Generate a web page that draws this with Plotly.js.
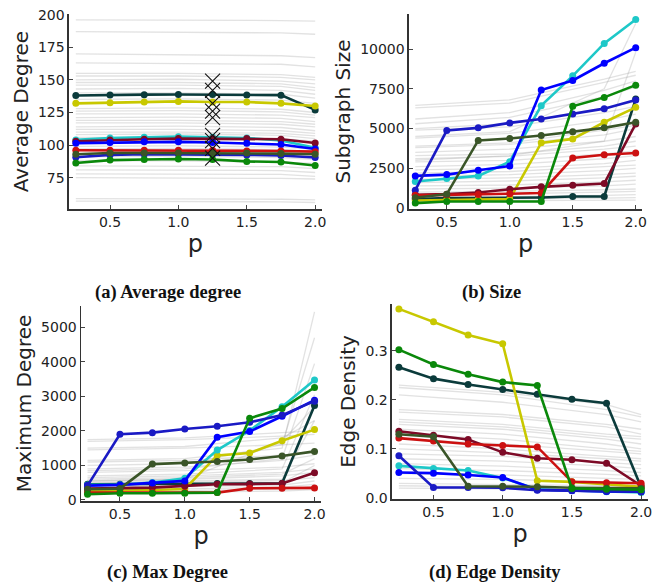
<!DOCTYPE html>
<html>
<head>
<meta charset="utf-8">
<script src="https://cdn.plot.ly/plotly-3.0.1.min.js"></script>
<style>html,body{margin:0;padding:0;background:#fff;}#chart{width:662px;height:584px;}</style>
</head>
<body>
<div id="chart"></div>
<script>
// x values (p)
const P = [0.25, 0.5, 0.75, 1.0, 1.25, 1.5, 1.75, 2.0];
const PG = [0.25, 1.0, 1.75, 2.0]; // x values for background (gray) runs

// highlighted series (order: teal, yellow, cyan, maroon, blue, mediumblue, red, olive, green)
const seriesNames = ['s1', 's2', 's3', 's4', 's5', 's6', 's7', 's8', 's9'];
const seriesColors = ['#0b3b3b', '#c8c800', '#1ec8c8', '#7d0a26', '#0000ff', '#1a1ac4', '#cc1111', '#3a5528', '#0a880a'];

const avgDegree = [
  [138, 138.5, 138.7, 138.8, 138.8, 138.5, 138.3, 127],
  [132, 132.5, 133, 133.5, 133, 133, 132, 130],
  [104, 105.5, 106, 106.5, 106, 105.5, 103.5, 98],
  [103, 104, 104.5, 105, 105, 105, 104.5, 101.6],
  [101.5, 102, 102.5, 102.5, 102, 101.5, 100.5, 97],
  [90.7, 92.5, 93, 93, 93, 92.5, 92, 90.5],
  [96, 96, 96, 96, 96, 95.5, 95.5, 95],
  [93, 94, 94, 94, 94, 94, 93.5, 93],
  [86.3, 88.5, 89, 89.3, 89, 87.5, 87, 84.3]
];
const subgraphSize = [
  [562, 625, 625, 625, 667, 729, 729, 6854],
  [480, 520, 540, 560, 4100, 4350, 5396, 6333],
  [1667, 1854, 2021, 2917, 6437, 8312, 10354, 11854],
  [833, 875, 979, 1187, 1333, 1437, 1542, 5292],
  [2021, 2104, 2375, 2646, 7417, 8021, 9104, 10083],
  [1125, 4875, 5042, 5354, 5604, 5917, 6250, 6792],
  [800, 820, 850, 900, 950, 3146, 3354, 3458],
  [650, 875, 4250, 4375, 4562, 4792, 5042, 5396],
  [312, 417, 417, 417, 417, 6396, 6958, 7729]
];
const maxDegree = [
  [456, 456, 456, 456, 476, 476, 485, 2738],
  [262, 270, 291, 320, 1291, 1359, 1718, 2039],
  [437, 440, 505, 631, 1447, 2010, 2699, 3476],
  [330, 335, 359, 408, 456, 460, 476, 786],
  [417, 437, 495, 553, 1816, 1981, 2427, 2893],
  [417, 1903, 1951, 2058, 2136, 2252, 2460, 2864],
  [214, 214, 214, 214, 214, 340, 340, 350],
  [311, 330, 1039, 1068, 1117, 1175, 1272, 1408],
  [165, 194, 194, 194, 214, 2369, 2650, 3262]
];
const edgeDensity = [
  [0.266, 0.243, 0.231, 0.221, 0.211, 0.201, 0.193, 0.022],
  [0.385, 0.359, 0.332, 0.314, 0.035, 0.033, 0.028, 0.023],
  [0.0655, 0.060, 0.056, 0.041, 0.0176, 0.0155, 0.013, 0.0115],
  [0.136, 0.128, 0.119, 0.093, 0.081, 0.078, 0.071, 0.025],
  [0.052, 0.0507, 0.047, 0.042, 0.017, 0.015, 0.0135, 0.013],
  [0.086, 0.0216, 0.0216, 0.021, 0.016, 0.0155, 0.014, 0.013],
  [0.122, 0.116, 0.110, 0.107, 0.104, 0.033, 0.031, 0.030],
  [0.130, 0.125, 0.024, 0.024, 0.023, 0.021, 0.020, 0.0196],
  [0.302, 0.272, 0.252, 0.236, 0.229, 0.0196, 0.018, 0.017]
];

// crosses drawn at p = 1.25 in panel (a)
const crossP = 1.25;
const crossVals = [149, 142, 132, 126, 121, 107.5, 103.5, 97.5, 90];

// background runs (values at PG)
const grayAvg = [
  [196,196,195.5,195],[187,186.5,186,185],[170,169.5,168.5,167],[163,162.5,162,160],
  [155,155,154,152],[153,153,152,150],[150,150.5,149,147],[148,148,147,144],
  [146,146,145,142],[143,143.5,142,139],[140,140,139,136],[135,135.5,134.5,132],
  [128,128.5,127.5,125],[126,126.5,125.5,123],[124,124,123,121],[121,121.5,120.5,118],
  [119,119,118,116],[117,117,116,114],[114,114.5,113.5,111],[112,112,111,109],
  [110,110,109,107],[108,108.5,107.5,105],[106,106,105,103],[99,99.5,98.5,97],
  [97,97.5,96.5,95],[91,91.5,90.5,89],[88,88,87,86],[84,84,83.5,82],
  [81,81,80.5,79],[78,78,77.5,76],[75,75,74.5,74],[59,59,58.5,58],[57,57,56.5,56]
];
const graySize = [
  [6450,6800,8100,8600],[6300,6600,7900,8350],[5600,6000,7400,8000],[5300,5700,7000,7600],
  [5000,5300,6300,6700],[4900,5100,6000,6400],[4400,4700,5500,5900],[3900,4100,4900,5200],
  [3800,4000,4600,5000],[3500,3700,4200,4500],[3300,3400,3900,4200],[3100,3250,3700,3900],
  [2900,3000,3400,3600],[2600,2750,3100,3300],[2400,2500,2800,3000],[2200,2300,2600,2700],
  [2000,2100,2350,2500],[1800,1900,2100,2200],[1600,1700,1900,2000],[1400,1450,1650,1750],
  [1200,1250,1400,1500],[1000,1050,1150,1200],[850,900,1000,1050],[700,720,800,850],
  [550,570,620,650],[450,460,490,500],[4500,4800,7500,11600],[3000,3300,4200,9800]
];
const grayMax = [
  [1750,1800,1950,2000],[1700,1750,1850,1900],[1500,1550,1800,2300],[1450,1500,1600,1650],
  [1150,1200,1500,5450],[1100,1150,1300,1400],[1000,1050,1600,4700],[900,950,1150,1300],
  [850,900,1200,3950],[800,850,950,1050],[700,750,900,3050],[650,700,800,900],
  [600,650,750,1200],[550,600,700,800],[500,550,600,2300],[450,500,560,650],
  [400,420,500,1000],[350,380,430,550],[300,320,370,450],[250,270,320,380],
  [200,220,260,300],[550,600,1700,2700]
];
const grayDensity = [
  [0.23,0.215,0.19,0.17],[0.225,0.21,0.18,0.165],[0.21,0.195,0.17,0.155],[0.18,0.17,0.15,0.14],
  [0.175,0.165,0.145,0.13],[0.16,0.15,0.13,0.125],[0.155,0.145,0.125,0.12],[0.15,0.14,0.12,0.11],
  [0.14,0.13,0.11,0.1],[0.13,0.12,0.1,0.095],[0.12,0.11,0.095,0.09],[0.11,0.1,0.085,0.08],
  [0.1,0.092,0.08,0.075],[0.09,0.085,0.072,0.068],[0.08,0.075,0.065,0.06],[0.07,0.065,0.056,0.052],
  [0.06,0.056,0.048,0.045],[0.05,0.047,0.04,0.038],[0.04,0.038,0.033,0.03],[0.03,0.028,0.025,0.022],
  [0.02,0.019,0.017,0.016],[0.025,0.023,0.02,0.018]
];

const panels = [
  {vals: avgDegree, gray: grayAvg, xa: 'x', ya: 'y'},
  {vals: subgraphSize, gray: graySize, xa: 'x2', ya: 'y2'},
  {vals: maxDegree, gray: grayMax, xa: 'x3', ya: 'y3'},
  {vals: edgeDensity, gray: grayDensity, xa: 'x4', ya: 'y4'}
];

const traces = [];
panels.forEach(pn => {
  pn.gray.forEach(g => traces.push({
    x: PG, y: g, xaxis: pn.xa, yaxis: pn.ya, mode: 'lines', showlegend: false, hoverinfo: 'skip',
    line: {color: 'rgba(150,150,150,0.28)', width: 1.3}
  }));
});
panels.forEach(pn => {
  pn.vals.forEach((v, i) => traces.push({
    x: P, y: v, xaxis: pn.xa, yaxis: pn.ya, mode: 'lines+markers', name: seriesNames[i], showlegend: false,
    line: {color: seriesColors[i], width: 2.6}, marker: {color: seriesColors[i], size: 7}
  }));
});
traces.push({
  x: crossVals.map(() => crossP), y: crossVals, xaxis: 'x', yaxis: 'y', mode: 'markers', showlegend: false,
  marker: {symbol: 'x-thin-open', size: 15, color: '#111', line: {color: '#111', width: 1.1}}
});

const tickFont = {family: 'DejaVu Sans', size: 14, color: '#222'};
function xAxis(domain, anchor) {
  return {
    domain: domain, anchor: anchor, range: [0.2, 2.05], tickmode: 'array',
    tickvals: [0.5, 1.0, 1.5, 2.0], ticktext: ['0.5', '1.0', '1.5', '2.0'],
    ticks: 'inside', ticklen: 4, tickwidth: 1, tickcolor: '#444',
    showline: true, linecolor: '#333', linewidth: 1.5, showgrid: false, zeroline: false,
    tickfont: tickFont,
    title: {text: 'p', font: {family: 'DejaVu Sans', size: 24, color: '#222'}, standoff: 0}
  };
}
function yAxis(domain, anchor, range, tickvals, ticktext, title) {
  return {
    domain: domain, anchor: anchor, range: range, tickmode: 'array', tickvals: tickvals, ticktext: ticktext,
    ticks: 'inside', ticklen: 4, tickwidth: 1, tickcolor: '#444',
    showline: true, linecolor: '#333', linewidth: 1.5, showgrid: false, zeroline: false,
    tickfont: tickFont,
    title: {text: title, font: {family: 'DejaVu Sans', size: 20, color: '#222'}, standoff: 4}
  };
}

const layout = {
  width: 662, height: 584, margin: {l: 0, r: 0, t: 0, b: 0},
  paper_bgcolor: '#fff', plot_bgcolor: '#fff', showlegend: false,
  xaxis: xAxis([0.1042, 0.4864], 'y'),
  yaxis: yAxis([0.6421, 0.9760], 'x', [51, 200.5], [75, 100, 125, 150, 175, 200], ['75', '100', '125', '150', '175', '200'], 'Average Degree'),
  xaxis2: xAxis([0.6178, 0.9698], 'y2'),
  yaxis2: yAxis([0.6421, 0.9760], 'x2', [-60, 12200], [0, 2500, 5000, 7500, 10000], ['0', '2500', '5000', '7500', '10000'], 'Subgraph Size'),
  xaxis3: xAxis([0.1224, 0.4849], 'y3'),
  yaxis3: yAxis([0.1421, 0.4760], 'x3', [-30, 5620], [0, 1000, 2000, 3000, 4000, 5000], ['0', '1000', '2000', '3000', '4000', '5000'], 'Maximum Degree'),
  xaxis4: xAxis([0.5921, 0.9789], 'y4'),
  yaxis4: yAxis([0.1455, 0.4795], 'x4', [-0.002, 0.395], [0, 0.1, 0.2, 0.3], ['0.0', '0.1', '0.2', '0.3'], 'Edge Density'),
  annotations: [
    {text: '(a) Average degree', x: 0.2538, y: 1 - 292 / 584},
    {text: '(b) Size', x: 0.7417, y: 1 - 292 / 584},
    {text: '(c) Max Degree', x: 0.2523, y: 1 - 572 / 584},
    {text: '(d) Edge Density', x: 0.7477, y: 1 - 572 / 584}
  ].map(a => Object.assign(a, {
    xref: 'paper', yref: 'paper', xanchor: 'center', yanchor: 'middle', showarrow: false,
    font: {family: 'Liberation Serif', size: 18.5, color: '#111', weight: 'bold'}
  }))
};

Plotly.newPlot('chart', traces, layout, {staticPlot: true, displayModeBar: false});
</script>
</body>
</html>
